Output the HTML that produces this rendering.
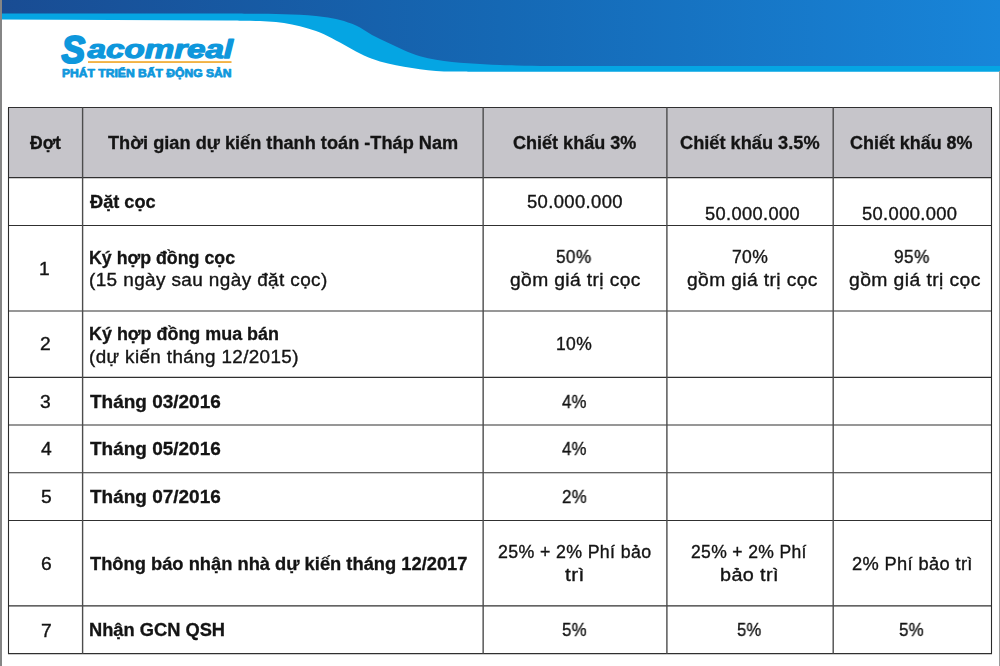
<!DOCTYPE html>
<html>
<head>
<meta charset="utf-8">
<style>
html,body{margin:0;padding:0;}
body{width:1000px;height:666px;position:relative;overflow:hidden;background:#fff;font-family:"Liberation Sans",sans-serif;color:#1a1a1a;}
#hdr{position:absolute;left:0;top:0;width:1000px;height:110px;}
.edge{position:absolute;background:#8a8a8a;}
#thbg{position:absolute;left:8.5px;top:107.5px;width:983px;height:70px;background:#c6c5ca;}
.t{position:absolute;white-space:nowrap;line-height:1;font-size:17.5px;transform-origin:0 0;color:#141414;will-change:transform;}
.b{font-weight:bold;-webkit-text-stroke:0.3px #141414;}
.r{letter-spacing:0.35px;-webkit-text-stroke:0.35px #141414;}
</style>
</head>
<body>
<svg id="hdr" viewBox="0 0 1000 110">
  <defs>
    <linearGradient id="g1" x1="0" y1="0" x2="1" y2="0">
      <stop offset="0" stop-color="#194c93"/>
      <stop offset="0.5" stop-color="#1568b4"/>
      <stop offset="1" stop-color="#1885d9"/>
    </linearGradient>
  </defs>
  <path d="M1000,0 H0 V19.6 L228.0,20.6 C230.7,20.6 238.7,20.7 244.0,20.8 C249.3,20.9 254.7,20.8 260.0,21.0 C265.3,21.2 270.7,21.5 276.0,22.1 C281.3,22.7 286.7,23.5 292.0,24.6 C297.3,25.7 302.7,27.0 308.0,28.6 C313.3,30.2 318.7,31.9 324.0,34.2 C329.3,36.5 334.7,39.7 340.0,42.6 C345.3,45.5 350.7,48.7 356.0,51.4 C361.3,54.1 366.7,56.8 372.0,58.8 C377.3,60.8 382.7,62.3 388.0,63.6 C393.3,64.9 398.7,65.8 404.0,66.8 C409.3,67.8 414.7,68.6 420.0,69.3 C425.3,70.0 430.7,70.6 436.0,71.0 C441.3,71.4 446.7,71.5 452.0,71.6 C457.3,71.7 465.3,71.7 468.0,71.7 L1000,71.7 Z" fill="#05a5e3"/>
  <path d="M1000,0 H0 V13.6 L228.0,13.6 C230.7,13.6 238.7,13.7 244.0,13.7 C249.3,13.7 254.7,13.8 260.0,13.8 C265.3,13.9 270.7,13.9 276.0,14.0 C281.3,14.1 286.7,14.2 292.0,14.4 C297.3,14.6 302.7,14.8 308.0,15.2 C313.3,15.6 318.7,16.2 324.0,17.0 C329.3,17.8 334.7,18.6 340.0,20.0 C345.3,21.4 350.7,23.1 356.0,25.6 C361.3,28.1 366.7,32.1 372.0,35.0 C377.3,37.9 382.7,40.3 388.0,42.8 C393.3,45.3 398.7,48.0 404.0,50.2 C409.3,52.4 414.7,54.6 420.0,56.2 C425.3,57.8 430.7,58.8 436.0,59.8 C441.3,60.8 446.7,61.4 452.0,62.0 C457.3,62.6 462.7,62.9 468.0,63.3 C473.3,63.7 478.7,63.9 484.0,64.2 C489.3,64.5 494.7,64.7 500.0,64.9 C505.3,65.1 510.7,65.3 516.0,65.4 C521.3,65.5 526.7,65.6 532.0,65.7 C537.3,65.8 542.7,65.9 548.0,65.9 C553.3,66.0 561.3,66.0 564.0,66.0 L1000,66 Z" fill="url(#g1)"/>
</svg>
<div class="edge" style="left:0;top:0;width:1.5px;height:666px;background:#858585;"></div>
<div class="edge" style="left:998.7px;top:71px;width:1.3px;height:595px;background:#9a9a9a;"></div>

<div id="thbg"></div>
<!-- horizontal lines -->
<svg style="position:absolute;left:0;top:0;" width="1000" height="666" viewBox="0 0 1000 666">
<g stroke="#303030" stroke-width="1.2" fill="none">
<line x1="8.00" y1="107.50" x2="992.00" y2="107.50"/>
<line x1="8.00" y1="177.65" x2="992.00" y2="177.65"/>
<line x1="8.00" y1="225.50" x2="992.00" y2="225.50"/>
<line x1="8.00" y1="311.00" x2="992.00" y2="311.00"/>
<line x1="8.00" y1="377.35" x2="992.00" y2="377.35"/>
<line x1="8.00" y1="425.00" x2="992.00" y2="425.00"/>
<line x1="8.00" y1="472.75" x2="992.00" y2="472.75"/>
<line x1="8.00" y1="520.50" x2="992.00" y2="520.50"/>
<line x1="8.00" y1="605.85" x2="992.00" y2="605.85"/>
<line x1="8.00" y1="653.70" x2="992.00" y2="653.70"/>
</g>
<g stroke="#2a2a2a" stroke-width="1.1" fill="none">
<line x1="8.50" y1="107.50" x2="8.50" y2="653.70"/>
<line x1="991.50" y1="107.50" x2="991.50" y2="653.70"/>
</g>
<g stroke="#4c4c4c" stroke-width="1.4" fill="none">
<line x1="82.60" y1="107.50" x2="82.60" y2="653.70"/>
<line x1="483.15" y1="107.50" x2="483.15" y2="653.70"/>
<line x1="666.90" y1="107.50" x2="666.90" y2="653.70"/>
<line x1="833.20" y1="107.50" x2="833.20" y2="653.70"/>
</g></svg>
<!-- logo -->
<svg style="position:absolute;left:50px;top:25px;" width="200" height="60" viewBox="50 25 200 60">
  <g font-family="Liberation Sans, sans-serif" font-weight="bold" fill="#0e97dc" stroke="#0e97dc">
    <text x="61.6" y="62.6" font-size="39" font-style="italic" textLength="23.6" lengthAdjust="spacingAndGlyphs" stroke-width="2.2" stroke-linejoin="round">S</text>
    <text x="87.6" y="58.3" font-size="25.4" font-style="italic" textLength="145.5" lengthAdjust="spacingAndGlyphs" stroke-width="1.25" stroke-linejoin="round">acomreal</text>
    <text x="62" y="77" font-size="11.2" textLength="169.5" lengthAdjust="spacingAndGlyphs" stroke-width="0.75" stroke-linejoin="round">PHÁT TRIỂN BẤT ĐỘNG SẢN</text>
  </g>
  <rect x="88" y="61.1" width="143.5" height="1.9" fill="#f2b244"/>
</svg>

<!-- header row -->
<div class="t b" style="left:29.88px;top:135px;transform:scaleX(1.0009);">Đợt</div>
<div class="t b" style="left:108.04px;top:135px;transform:scaleX(1.0385);">Thời gian dự kiến thanh toán -Tháp Nam</div>
<div class="t b" style="left:512.62px;top:135px;transform:scaleX(1.0309);">Chiết khấu 3%</div>
<div class="t b" style="left:679.80px;top:135px;transform:scaleX(1.0402);">Chiết khấu 3.5%</div>
<div class="t b" style="left:849.74px;top:135px;transform:scaleX(1.0244);">Chiết khấu 8%</div>
<div class="t b" style="left:89.59px;top:194px;transform:scaleX(1.0391);">Đặt cọc</div>
<div class="t r" style="left:526.58px;top:194px;transform:scaleX(1.0532);">50.000.000</div>
<div class="t r" style="left:705.13px;top:206px;transform:scaleX(1.0423);">50.000.000</div>
<div class="t r" style="left:861.85px;top:206px;transform:scaleX(1.0474);">50.000.000</div>
<div class="t r" style="left:39.17px;top:261px;transform:scaleX(1.1000);">1</div>
<div class="t b" style="left:89.04px;top:250px;transform:scaleX(1.0164);">Ký hợp đồng cọc</div>
<div class="t r" style="left:88.99px;top:272px;transform:scaleX(1.0839);">(15 ngày sau ngày đặt cọc)</div>
<div class="t r" style="left:556.48px;top:249px;transform:scaleX(0.9833);">50%</div>
<div class="t r" style="left:509.70px;top:272px;transform:scaleX(1.0983);">gồm giá trị cọc</div>
<div class="t r" style="left:731.65px;top:249px;transform:scaleX(1.0020);">70%</div>
<div class="t r" style="left:686.56px;top:272px;transform:scaleX(1.0989);">gồm giá trị cọc</div>
<div class="t r" style="left:893.78px;top:249px;transform:scaleX(0.9872);">95%</div>
<div class="t r" style="left:849.25px;top:272px;transform:scaleX(1.1067);">gồm giá trị cọc</div>
<div class="t r" style="left:39.78px;top:336px;transform:scaleX(1.1000);">2</div>
<div class="t b" style="left:89.10px;top:326px;transform:scaleX(1.0242);">Ký hợp đồng mua bán</div>
<div class="t r" style="left:88.90px;top:349px;transform:scaleX(1.0766);">(dự kiến tháng 12/2015)</div>
<div class="t r" style="left:555.90px;top:336px;transform:scaleX(0.9925);">10%</div>
<div class="t r" style="left:39.97px;top:394px;transform:scaleX(1.1000);">3</div>
<div class="t b" style="left:90.32px;top:394px;transform:scaleX(1.0842);">Tháng 03/2016</div>
<div class="t r" style="left:562.04px;top:394px;transform:scaleX(0.9553);">4%</div>
<div class="t r" style="left:40.65px;top:441px;transform:scaleX(1.1000);">4</div>
<div class="t b" style="left:90.32px;top:441px;transform:scaleX(1.0842);">Tháng 05/2016</div>
<div class="t r" style="left:562.04px;top:441px;transform:scaleX(0.9553);">4%</div>
<div class="t r" style="left:40.86px;top:489px;transform:scaleX(1.1000);">5</div>
<div class="t b" style="left:90.32px;top:489px;transform:scaleX(1.0842);">Tháng 07/2016</div>
<div class="t r" style="left:561.58px;top:489px;transform:scaleX(0.9693);">2%</div>
<div class="t r" style="left:40.87px;top:556px;transform:scaleX(1.1000);">6</div>
<div class="t b" style="left:89.93px;top:556px;transform:scaleX(1.0462);">Thông báo nhận nhà dự kiến tháng 12/2017</div>
<div class="t r" style="left:498.09px;top:544px;transform:scaleX(1.0154);">25% + 2% Phí bảo</div>
<div class="t r" style="left:565.40px;top:567px;transform:scaleX(1.1798);">trì</div>
<div class="t r" style="left:690.93px;top:544px;transform:scaleX(1.0018);">25% + 2% Phí</div>
<div class="t r" style="left:720.39px;top:567px;transform:scaleX(1.1313);">bảo trì</div>
<div class="t r" style="left:851.79px;top:556px;transform:scaleX(1.0429);">2% Phí bảo trì</div>
<div class="t r" style="left:40.88px;top:623px;transform:scaleX(1.1000);">7</div>
<div class="t b" style="left:89.29px;top:622px;transform:scaleX(1.0439);">Nhận GCN QSH</div>
<div class="t r" style="left:561.61px;top:622px;transform:scaleX(0.9642);">5%</div>
<div class="t r" style="left:736.89px;top:622px;transform:scaleX(0.9473);">5%</div>
<div class="t r" style="left:899.46px;top:622px;transform:scaleX(0.9658);">5%</div>
</body>
</html>
